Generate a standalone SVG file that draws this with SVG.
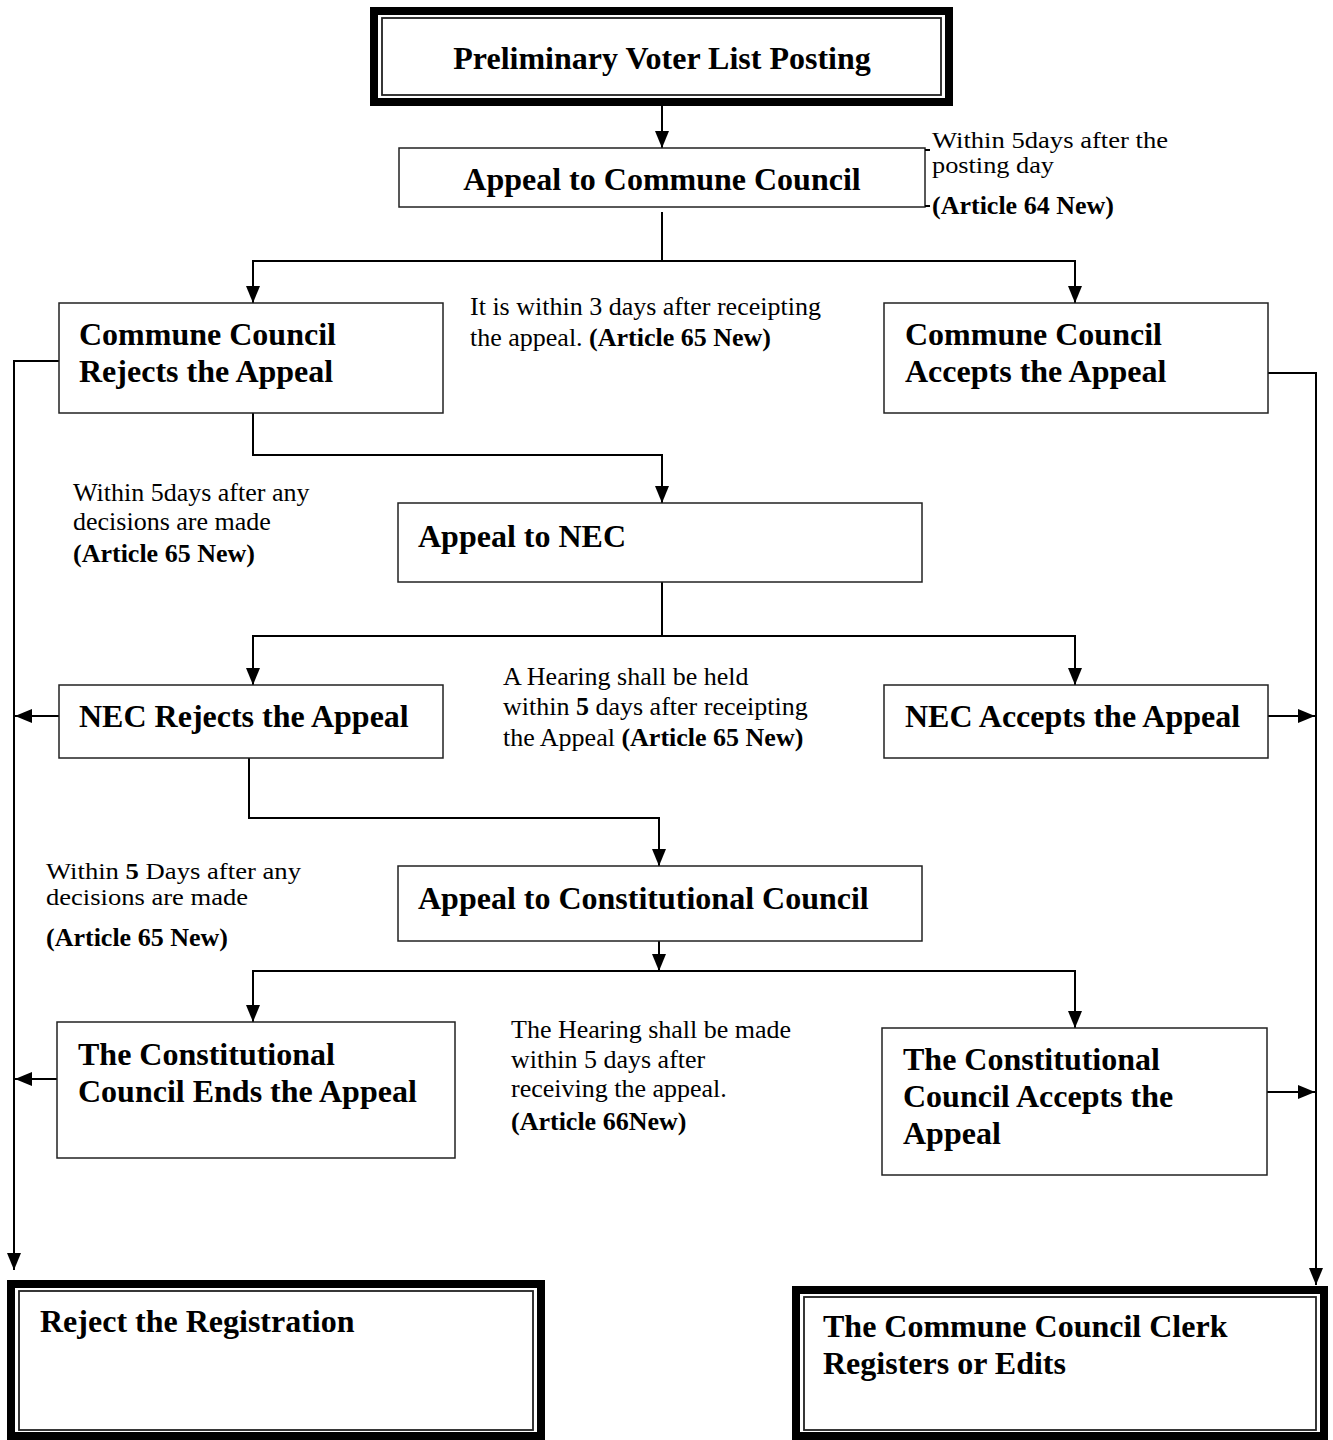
<svg xmlns="http://www.w3.org/2000/svg" width="1333" height="1440" viewBox="0 0 1333 1440">
  <style>
    .box { fill: #fff; stroke: #222; stroke-width: 1.5; }
    .frame-outer { fill: #fff; stroke: #000; stroke-width: 8; }
    .frame-inner { fill: none; stroke: #222; stroke-width: 1.8; }
    .title { font-family: "Liberation Serif", "Times New Roman", serif; font-weight: bold; font-size: 32px; fill: #000; }
    .note { font-family: "Liberation Serif", "Times New Roman", serif; font-size: 26px; fill: #000; }
    .tight { font-size: 23.5px; }
    .bold { font-weight: bold; }
    .wire { fill: none; stroke: #000; stroke-width: 2; }
    .arrow { fill: none; stroke: #000; stroke-width: 2; marker-end: url(#head); }
  </style>
  <defs>
    <marker id="head" markerUnits="userSpaceOnUse" markerWidth="18" markerHeight="14" viewBox="0 0 18 14" refX="17" refY="7" orient="auto">
      <path d="M0,0 L17,7 L0,14 Z" fill="#000"/>
    </marker>
  </defs>
  <rect width="1333" height="1440" fill="#fff"/>

  <!-- connectors -->
  <g id="connectors">
    <line class="arrow" x1="662" y1="106" x2="662" y2="148"/>
    <line class="wire" x1="662" y1="212" x2="662" y2="261"/>
    <line class="wire" x1="252" y1="261" x2="1076" y2="261"/>
    <line class="arrow" x1="253" y1="261" x2="253" y2="303"/>
    <line class="arrow" x1="1075" y1="261" x2="1075" y2="303"/>

    <polyline class="arrow" points="59,361 14,361 14,1270"/>
    <polyline class="arrow" points="1268,373 1316,373 1316,1285"/>

    <polyline class="arrow" points="253,405 253,455 662,455 662,503"/>

    <line class="wire" x1="662" y1="582" x2="662" y2="636"/>
    <line class="wire" x1="252" y1="636" x2="1076" y2="636"/>
    <line class="arrow" x1="253" y1="636" x2="253" y2="685"/>
    <line class="arrow" x1="1075" y1="636" x2="1075" y2="685"/>

    <line class="arrow" x1="59" y1="716" x2="15" y2="716"/>
    <line class="arrow" x1="1268" y1="716" x2="1315" y2="716"/>

    <polyline class="arrow" points="249,745 249,818 659,818 659,866"/>

    <line class="arrow" x1="659" y1="926" x2="659" y2="971"/>
    <line class="wire" x1="252" y1="971" x2="1076" y2="971"/>
    <line class="arrow" x1="253" y1="971" x2="253" y2="1022"/>
    <line class="arrow" x1="1075" y1="971" x2="1075" y2="1028"/>

    <line class="arrow" x1="57" y1="1079" x2="15" y2="1079"/>
    <line class="arrow" x1="1267" y1="1092" x2="1315" y2="1092"/>
  </g>

  <!-- start node -->
  <g id="posting">
    <rect class="frame-outer" x="374" y="11" width="575" height="91"/>
    <rect class="frame-inner" x="382" y="18" width="559" height="77"/>
    <text class="title" x="662" y="69" text-anchor="middle">Preliminary Voter List Posting</text>
  </g>

  <g id="appeal-commune">
    <rect class="box" x="399" y="148" width="526" height="59"/>
    <path class="wire" d="M925,150 h5 M925,206 h5" stroke-width="1.2"/>
    <text class="title" x="662" y="190" text-anchor="middle">Appeal to Commune Council</text>
  </g>
  <g id="note-64">
    <text class="note tight" x="932" y="148" textLength="236" lengthAdjust="spacingAndGlyphs">Within 5days after the</text>
    <text class="note tight" x="932" y="173" textLength="122" lengthAdjust="spacingAndGlyphs">posting day</text>
    <text class="note bold" x="932" y="214">(Article 64 New)</text>
  </g>

  <g id="commune-rejects">
    <rect class="box" x="59" y="303" width="384" height="110"/>
    <text class="title" x="79" y="345">Commune Council</text>
    <text class="title" x="79" y="382">Rejects the Appeal</text>
  </g>
  <g id="commune-accepts">
    <rect class="box" x="884" y="303" width="384" height="110"/>
    <text class="title" x="905" y="345">Commune Council</text>
    <text class="title" x="905" y="382">Accepts the Appeal</text>
  </g>
  <g id="note-65a">
    <text class="note" x="470" y="315">It is within 3 days after receipting</text>
    <text class="note" x="470" y="346">the appeal. <tspan class="bold">(Article 65 New)</tspan></text>
  </g>

  <g id="note-65b">
    <text class="note" x="73" y="501">Within 5days after any</text>
    <text class="note" x="73" y="530">decisions are made</text>
    <text class="note bold" x="73" y="562">(Article 65 New)</text>
  </g>

  <g id="appeal-nec">
    <rect class="box" x="398" y="503" width="524" height="79"/>
    <text class="title" x="418" y="547">Appeal to NEC</text>
  </g>

  <g id="nec-rejects">
    <rect class="box" x="59" y="685" width="384" height="73"/>
    <text class="title" x="79" y="727">NEC Rejects the Appeal</text>
  </g>
  <g id="nec-accepts">
    <rect class="box" x="884" y="685" width="384" height="73"/>
    <text class="title" x="905" y="727">NEC Accepts the Appeal</text>
  </g>
  <g id="note-65c">
    <text class="note" x="503" y="685">A Hearing shall be held</text>
    <text class="note" x="503" y="715">within <tspan class="bold">5</tspan> days after receipting</text>
    <text class="note" x="503" y="746">the Appeal <tspan class="bold">(Article 65 New)</tspan></text>
  </g>

  <g id="note-65d">
    <text class="note tight" x="46" y="879" textLength="255" lengthAdjust="spacingAndGlyphs">Within <tspan class="bold">5</tspan> Days after any</text>
    <text class="note tight" x="46" y="905" textLength="202" lengthAdjust="spacingAndGlyphs">decisions are made</text>
    <text class="note bold" x="46" y="946">(Article 65 New)</text>
  </g>

  <g id="appeal-constitutional">
    <rect class="box" x="398" y="866" width="524" height="75"/>
    <text class="title" x="418" y="909">Appeal to Constitutional Council</text>
  </g>

  <g id="cc-ends">
    <rect class="box" x="57" y="1022" width="398" height="136"/>
    <text class="title" x="78" y="1065">The Constitutional</text>
    <text class="title" x="78" y="1102">Council Ends the Appeal</text>
  </g>
  <g id="cc-accepts">
    <rect class="box" x="882" y="1028" width="385" height="147"/>
    <text class="title" x="903" y="1070">The Constitutional</text>
    <text class="title" x="903" y="1107">Council Accepts the</text>
    <text class="title" x="903" y="1144">Appeal</text>
  </g>
  <g id="note-66">
    <text class="note" x="511" y="1038">The Hearing shall be made</text>
    <text class="note" x="511" y="1068">within 5 days after</text>
    <text class="note" x="511" y="1097">receiving the appeal.</text>
    <text class="note bold" x="511" y="1130">(Article 66New)</text>
  </g>

  <!-- end nodes -->
  <g id="reject-registration">
    <rect class="frame-outer" x="11" y="1284" width="530" height="152"/>
    <rect class="frame-inner" x="19" y="1291" width="514" height="139"/>
    <text class="title" x="40" y="1332">Reject the Registration</text>
  </g>
  <g id="clerk-registers">
    <rect class="frame-outer" x="796" y="1290" width="528" height="146"/>
    <rect class="frame-inner" x="804" y="1297" width="512" height="133"/>
    <text class="title" x="823" y="1337">The Commune Council Clerk</text>
    <text class="title" x="823" y="1374">Registers or Edits</text>
  </g>
</svg>
